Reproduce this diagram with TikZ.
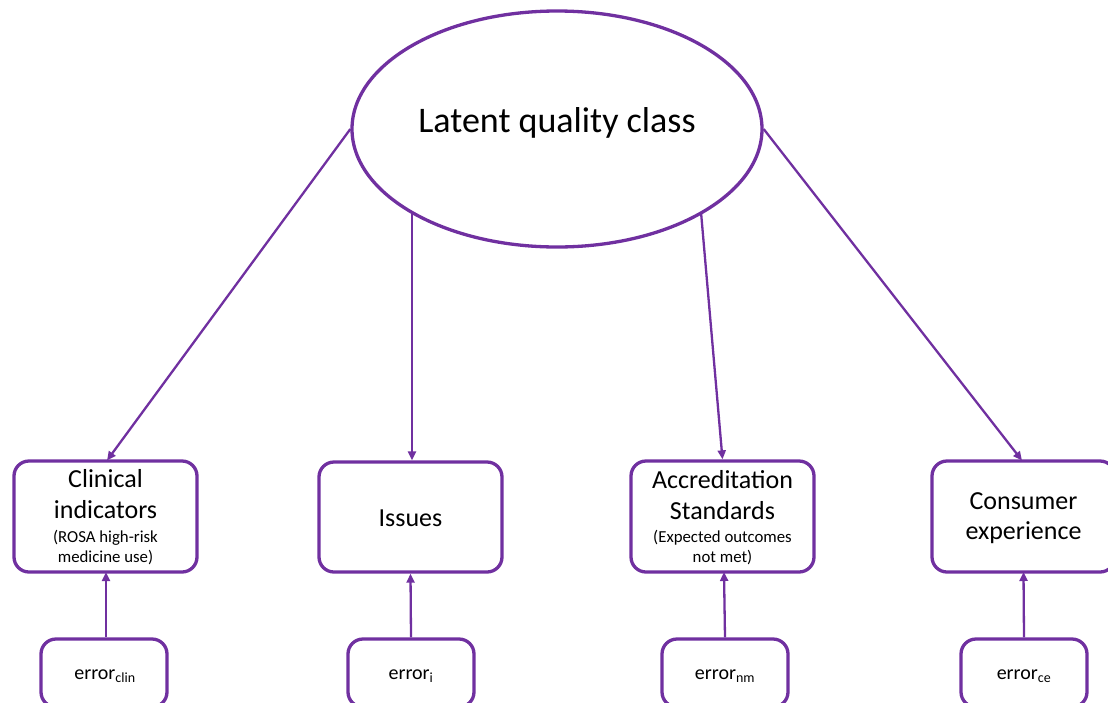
\documentclass[tikz,border=0pt]{standalone}
\usepackage{fontspec}
\setmainfont{Carlito}
\usetikzlibrary{arrows.meta,shapes.geometric}
\definecolor{pp}{HTML}{7030A0}
\tikzset{
  box/.style={draw=pp, line width=3.3pt, rounded corners=15pt, fill=white, inner sep=0pt},
  latent/.style={ellipse, draw=pp, line width=3.3pt, fill=white, inner sep=0pt, minimum width=410pt, minimum height=236pt},
  arr/.style={draw=pp, line width=2.3pt, -{Triangle[length=9pt,width=8pt]}},
  big/.style={font=\fontsize{26}{30}\selectfont, anchor=base, inner sep=0pt},
  small/.style={font=\fontsize{16.8}{20}\selectfont, anchor=base, inner sep=0pt},
  errt/.style={font=\fontsize{20}{24}\selectfont, anchor=base, inner sep=0pt},
}
\begin{document}
\begin{tikzpicture}[x=1pt,y=-1pt]
\useasboundingbox (0,0) rectangle (1108,702);
% latent
\node[latent] (lat) at (557,129) {};
\node[font=\fontsize{36}{42}\selectfont, anchor=base, inner sep=0pt] (latt) at (557,132) {Latent quality class};
% indicator boxes
\node[box, minimum width=183pt, minimum height=111pt] (clin) at (105.5,516.5) {};
\node[box, minimum width=183pt, minimum height=110pt] (iss) at (410.5,517) {};
\node[box, minimum width=183pt, minimum height=111pt] (acc) at (722.5,516.5) {};
\node[box, minimum width=183pt, minimum height=111pt] (cons) at (1023.5,516.5) {};
% texts
\node[big] (clint1) at (105.5,487) {Clinical};
\node[big] (clint2) at (105.5,518) {indicators};
\node[small] (clint3) at (105.5,542.5) {(ROSA high-risk};
\node[small] (clint4) at (105.5,562.5) {medicine use)};
\node[big] (isst) at (410.5,526) {Issues};
\node[big] (acct1) at (722.5,488) {Accreditation};
\node[big] (acct2) at (722.5,519) {Standards};
\node[small] (acct3) at (722.5,542.5) {(Expected outcomes};
\node[small] (acct4) at (722.5,562.5) {not met)};
\node[big] (const1) at (1023.5,509) {Consumer};
\node[big] (const2) at (1023.5,539) {experience};
% error boxes
\node[box, minimum width=126pt, minimum height=68pt] (eclin) at (104,673) {};
\node[box, minimum width=126pt, minimum height=68pt] (eiss) at (411,673) {};
\node[box, minimum width=126pt, minimum height=68pt] (eacc) at (725,673) {};
\node[box, minimum width=126pt, minimum height=68pt] (econs) at (1024,673) {};
\node[errt] (eclint) at (105,679) {error\textsubscript{clin}};
\node[errt] (eisst) at (411,679) {error\textsubscript{i}};
\node[errt] (eacct) at (725,679) {error\textsubscript{nm}};
\node[errt] (econst) at (1024,679) {error\textsubscript{ce}};
% coordinates on ellipse
\coordinate (liss) at (412,212);
\coordinate (lacc) at (701,212);
% arrows
\draw[arr] (lat.west) -- (107,460.5);
\draw[arr] (liss) -- (liss |- iss.north);
\draw[arr] (lacc) -- (acc.north);
\draw[arr] (lat.east) -- (1022,460.5);
\draw[arr] (eclin.north -| 106,0) -- (106,572);
\draw[arr] (eiss.north) -- (iss.south);
\draw[arr] (eacc.north) -- (724,572);
\draw[arr] (econs.north) -- (1023.5,572);
\end{tikzpicture}
\end{document}
